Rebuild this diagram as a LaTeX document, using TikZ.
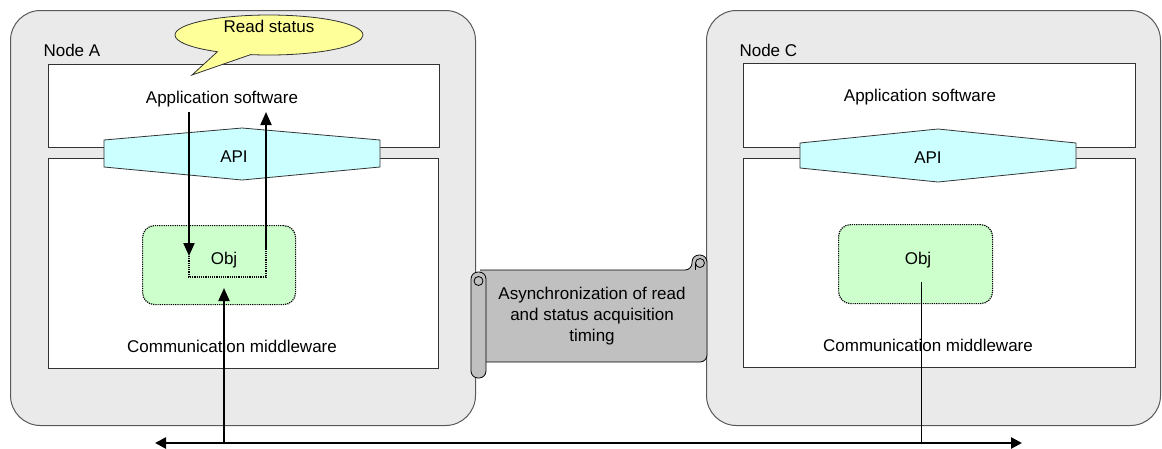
\documentclass[tikz,border=0pt]{standalone}
\usepackage{fontspec}
\setmainfont{Liberation Sans}
\usetikzlibrary{arrows.meta,shapes.callouts,positioning}
\definecolor{nodegray}{HTML}{EAEAEA}
\definecolor{apicyan}{HTML}{CCFFFF}
\definecolor{objgreen}{HTML}{CCFFCC}
\definecolor{notebg}{HTML}{FFFF99}
\definecolor{scrollgray}{HTML}{C0C0C0}
\tikzset{
	nodebox/.style={draw=black!65, fill=nodegray, rounded corners=30pt, line width=1pt, anchor=north west, inner sep=0pt},
	layer/.style={draw=black!80, fill=white, line width=0.8pt, anchor=north west, inner sep=0pt},
	apibox/.style={draw=black!80, fill=apicyan, line width=0.8pt},
	objbox/.style={draw=black, fill=objgreen, densely dotted, line width=1.2pt, rounded corners=12pt, anchor=north west, inner sep=0pt},
	flow/.style={line width=2pt, -{Triangle[length=13pt,width=11pt]}},
	bus/.style={line width=2.5pt, {Triangle[length=11pt,width=11pt]}-{Triangle[length=11pt,width=11pt]}},
	scrollpart/.style={draw=black, fill=scrollgray, line width=0.8pt, rounded corners=7pt},
}
\begin{document}
\begin{tikzpicture}[x=1pt, y=-1pt, font=\fontsize{17}{21}\selectfont]
	\useasboundingbox (0,0) rectangle (1162,448);
	%node boxes
	\node[nodebox, minimum width=465pt, minimum height=415pt] (nodeA) at (10,10) {};
	\node[nodebox, minimum width=454pt, minimum height=415pt] (nodeC) at (706,10) {};
	\node[anchor=west] (nameA) at (40,50) {Node A};
	\node[anchor=west] (nameC) at (736,50) {Node C};
	%layers
	\node[layer, minimum width=391pt, minimum height=83pt] (appA) at (48,64) {};
	\node[layer, minimum width=390pt, minimum height=210pt] (mwA) at (48,158) {};
	\node[layer, minimum width=392pt, minimum height=84pt] (appC) at (743,63) {};
	\node[layer, minimum width=392pt, minimum height=209pt] (mwC) at (743,158) {};
	\node (apptxtA) at (222,99) {Application software};
	\node (apptxtC) at (920,97) {Application software};
	\node (mwtxtA) at (232,346) {Communication middleware};
	\node (mwtxtC) at (928,345) {Communication middleware};
	%api
	\draw[apibox] (104,140) -- (242,128) -- (380,140) -- (380,167) -- (242,180) -- (104,167) -- cycle;
	\draw[apibox] (800,143) -- (938,129) -- (1076,143) -- (1076,168) -- (938,182) -- (800,168) -- cycle;
	\node (apiA) at (234,157) {API};
	\node (apiC) at (928,158) {API};
	%objects
	\node[objbox, minimum width=153pt, minimum height=79pt] (objA) at (142,225) {};
	\node[objbox, minimum width=154pt, minimum height=79pt] (objC) at (838,224) {};
	\node (objtxtA) at (224,260) {Obj};
	\node (objtxtC) at (918,260) {Obj};
	%scroll
	\draw[scrollpart] (480,270) -- (692,270) -- (692,255) -- (707,255) -- (707,362) -- (486,362);
	\draw[line width=0.8pt] (700,263) circle (4.5);
	\draw[line width=0.8pt] (695.5,263) -- (695.5,270);
	\draw[scrollpart] (471,272) rectangle (486,378);
	\draw[line width=0.8pt] (478.5,281) circle (4.5);
	\node[align=center] (async) at (592,316) {Asynchronization of read\\and status acquisition\\timing};
	%callout
	\node[ellipse callout, draw=black!80, fill=notebg, line width=0.8pt, inner sep=0pt, text height=11pt, text depth=16pt,
		minimum width=188pt, minimum height=40pt,
		callout absolute pointer={(192,75)}, callout pointer arc=22] (note) at (269,35) {Read status};
	%read and status
	\coordinate (rdTop) at (189,112);
	\coordinate (rdEnd) at (189,256);
	\coordinate (stEnd) at (266,250);
	\coordinate (stTop) at (266,112);
	\draw[flow] (rdTop) -- (rdEnd);
	\draw[line width=1.2pt, densely dotted] (rdEnd) -- ++(0,21) -| (stEnd);
	\draw[flow] (stEnd) -- (stTop);
	%bus
	\coordinate (busL) at (155,443);
	\coordinate (busR) at (1022,443);
	\coordinate (tapA) at (224,443);
	\coordinate (tapC) at (921,443);
	\coordinate (inA) at (224,288);
	\coordinate (inC) at (921,282);
	\draw[bus] (busL) -- (busR);
	\draw[flow] (tapA) -- (inA);
	\draw[line width=0.9pt] (tapC) -- (inC);
\end{tikzpicture}
\end{document}
